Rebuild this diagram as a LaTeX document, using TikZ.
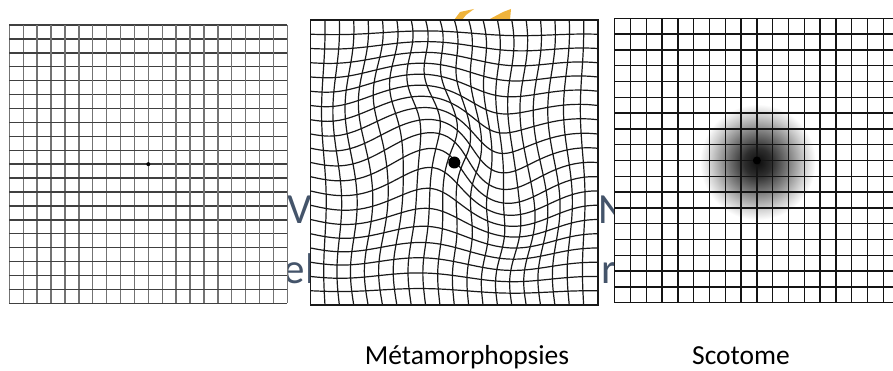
\documentclass[tikz,border=0pt]{standalone}
\usepackage{fontspec}
\setmainfont{Carlito}
\usetikzlibrary{positioning}
\definecolor{slate}{HTML}{44546A}
\definecolor{gold}{HTML}{F0B43C}
\pgfdeclareradialshading{scotspot}{\pgfpoint{0bp}{0bp}}{color(0bp)=(black!95); color(6bp)=(black!82); color(13bp)=(black!52); color(20bp)=(black!20); color(25bp)=(white); color(50bp)=(white)}

\begin{document}
\begin{tikzpicture}[
  x=1pt, y=-1pt,
  declare function={
    bump(\gu,\gv)=(1-\gu*\gu)*(1-\gv*\gv);
    swirl(\gu,\gv)=50*exp(-(\gu*\gu+\gv*\gv)/0.12);
    warpx(\gu,\gv)=\gu*cos(swirl(\gu,\gv))-\gv*sin(swirl(\gu,\gv))
      +bump(\gu,\gv)*(0.10*sin(260*\gv+20)+0.05*sin(190*\gu+70));
    warpy(\gu,\gv)=\gu*sin(swirl(\gu,\gv))+\gv*cos(swirl(\gu,\gv))
      +bump(\gu,\gv)*(0.10*sin(240*\gu-30)+0.05*sin(170*\gv+10));
  },
  lvline/.style={draw=black!55, line width=1.4pt},
  lhline/.style={draw=black!75, line width=1.4pt},
  mline/.style={draw=black!90, line width=1.2pt},
  rline/.style={draw=black!92, line width=1.5pt},
  caption/.style={anchor=base, font=\fontsize{27.5}{32}\selectfont},
  bgtext/.style={anchor=base west, inner sep=0pt, text=slate,
                 font=\fontsize{43}{50}\selectfont}
]
  \useasboundingbox (0,0) rectangle (893,371);
  \clip (0,0) rectangle (893,371);

  \node[bgtext] (bgv) at (287,223) {V};
  \node[bgtext] (bgel) at (283.5,283) {el};
  \node[bgtext] (bgn) at (598.5,223) {N};
  \node[bgtext] (bgr) at (601.5,283) {r};
  \fill[gold] (454,20) -- (460,12) -- (474,9) -- (466,15) -- (462,20) -- cycle;
  \fill[gold] (488,20) -- (503,12) -- (511,9) -- (510,20) -- cycle;

  % normal grid
  \begin{scope}[xshift=9.3pt, yshift=-25pt, x=13.9pt, y=-13.915pt]
    \fill[white] (0,0) rectangle (20,20);
    \foreach \i in {0,...,20} {
      \draw[lvline] (\i,0) -- (\i,20);
      \draw[lhline] (0,\i) -- (20,\i);
    }
    \fill (10,10) circle (2pt);
  \end{scope}

  % distorted grid
  \begin{scope}[xshift=454.3pt, yshift=-162.5pt, x=143.7pt, y=-142.5pt]
    \fill[white] (-1,-1) rectangle (1,1);
    \foreach \i in {1,...,19} {
      \pgfmathsetmacro{\gpos}{-1+\i/10}
      \draw[mline] plot[domain=-1:1, samples=41, smooth, variable=\t]
        ({warpx(\gpos,\t)}, {warpy(\gpos,\t)});
      \draw[mline] plot[domain=-1:1, samples=41, smooth, variable=\t]
        ({warpx(\t,\gpos)}, {warpy(\t,\gpos)});
    }
    \draw[mline] (-1,-1) rectangle (1,1);
    \fill (0,0) circle (6pt);
  \end{scope}

  % scotoma grid
  \begin{scope}[xshift=614.7pt, yshift=-18.3pt, x=15.8pt, y=-15.8pt]
    \fill[white] (0,0) rectangle (18,18);
    \shade[shading=scotspot] (9.05,9.1) circle (58pt);
    \foreach \i in {0,...,18} {
      \draw[rline] (\i,0) -- (\i,18);
      \draw[rline] (0,\i) -- (18,\i);
    }
    \fill (9,9) circle (4pt);
  \end{scope}

  \node[caption] (lblmeta) at (467,364) {Métamorphopsies};
  \node[caption] (lblscot) at (741,364) {Scotome};
\end{tikzpicture}
\end{document}
